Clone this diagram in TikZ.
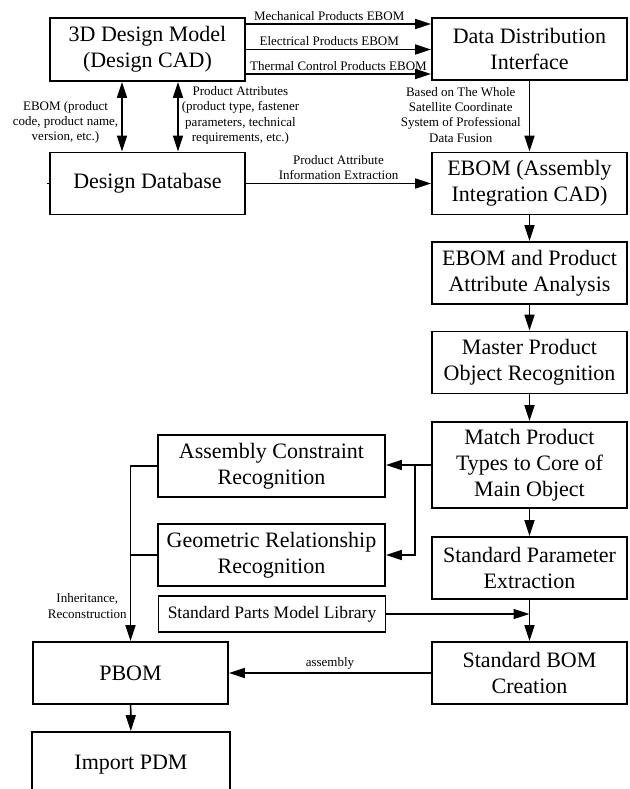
\documentclass[tikz,border=0pt]{standalone}
\usepackage{fontspec}
\setmainfont{Liberation Serif}
\usetikzlibrary{arrows.meta,calc}
\definecolor{FlowInk}{HTML}{000000}
\tikzset{
  every node/.style={text=FlowInk},
  block/.style={draw=FlowInk, line width=0.9pt, align=center, inner sep=0pt, minimum width=97.5pt, minimum height=31pt, font=\fontsize{11}{13}\selectfont},
  wideblock/.style={block, minimum width=113.5pt},
  note/.style={align=center, inner sep=1.5pt, font=\fontsize{6.5}{7.7}\selectfont},
  flow/.style={-{Triangle[length=8pt,width=5pt]}, draw=FlowInk, line width=0.8pt},
  twoway/.style={{Triangle[length=8pt,width=5pt]}-{Triangle[length=8pt,width=5pt]}, draw=FlowInk, line width=0.8pt},
  link/.style={draw=FlowInk, line width=0.8pt},
}

\begin{document}
\begin{tikzpicture}[x=0.5pt,y=-0.5pt]
  \clip (0,0) rectangle (630,789);
  % Design side
  \node[block, minimum height=31.5pt] (designcad) at (147.5,49.5) {3D Design Model\\(Design CAD)};
  \node[block] (designdb) at (147.5,183.5) {Design Database};
  % Main column
  \node[block] (distrib) at (529.5,49) {Data Distribution\\Interface};
  \node[block] (ebomcad) at (529.5,183.5) {EBOM (Assembly\\Integration CAD)};
  \node[block] (analysis) at (529.5,273) {EBOM and Product\\Attribute Analysis};
  \node[block] (master) at (529.5,362.5) {Master Product\\Object Recognition};
  \node[block, minimum height=43pt] (match) at (529.5,465) {Match Product\\Types to Core of\\Main Object};
  \node[block] (param) at (529.5,568) {Standard Parameter\\Extraction};
  \node[block] (stdbom) at (529.5,673) {Standard BOM\\Creation};
  % Recognition branch
  \node[wideblock] (constraint) at (271.5,466) {Assembly Constraint\\Recognition};
  \node[wideblock] (geometric) at (271.5,555) {Geometric Relationship\\Recognition};
  \node[wideblock, minimum height=18pt, font=\fontsize{8.75}{10}\selectfont] (library) at (272,614) {Standard Parts Model Library};
  % Output side
  \node[block] (pbom) at (130.5,673) {PBOM};
  \node[block, minimum width=99pt, minimum height=33pt] (pdm) at (131,765) {Import PDM};

  % EBOM streams into the distribution interface
  \draw[flow] ([yshift=12.75pt]designcad.east) -- ([yshift=12.75pt]designcad.east -| distrib.west)
    node[note, pos=0.45, above] {Mechanical Products EBOM};
  \draw[flow] (designcad.east) -- (designcad.east -| distrib.west)
    node[note, pos=0.45, above] {Electrical Products EBOM};
  \draw[flow] ([yshift=-12.25pt]designcad.east) -- ([yshift=-12.25pt]designcad.east -| distrib.west)
    node[note, midway, above] {Thermal Control Products EBOM};
  % Model <-> database
  \draw[twoway] ([xshift=-12.75pt]designcad.south) -- ([xshift=-12.75pt]designcad.south |- designdb.north)
    node[note, pos=0.58, left] {EBOM (product\\code, product name,\\version, etc.)};
  \draw[twoway] ([xshift=15.25pt]designcad.south) -- ([xshift=15.25pt]designcad.south |- designdb.north)
    node[note, pos=0.48, right] {Product Attributes\\(product type, fastener\\parameters, technical\\requirements, etc.)};
  \draw[link] (designdb.west) -- ++(-1pt,0);
  % Into the integration CAD
  \draw[flow] (distrib.south) -- (ebomcad.north)
    node[note, pos=0.48, left=2.5pt] {Based on The Whole\\Satellite Coordinate\\System of Professional\\Data Fusion};
  \draw[flow] (designdb.east) -- (ebomcad.west)
    node[note, midway, above] {Product Attribute\\Information Extraction};
  % Main column
  \draw[flow] (ebomcad) -- (analysis);
  \draw[flow] (analysis) -- (master);
  \draw[flow] (master) -- (match);
  \draw[flow] (match) -- (param);
  \draw[flow] (param) -- (stdbom);
  \draw[flow] (library.east) -- (library.east -| param.south);
  % Recognition branch
  \draw[flow] (match.west) -- (match.west -| constraint.east);
  \coordinate (split) at ([xshift=-8pt]match.west);
  \draw[flow] (split) |- (geometric.east);
  % Into PBOM
  \draw[flow] (constraint.west) -| (pbom.north)
    node[note, pos=0.9, left] {Inheritance,\\Reconstruction};
  \draw[link] (geometric.west) -- (geometric.west -| pbom.north);
  \draw[flow] (stdbom.west) -- (pbom.east) node[note, midway, above] {assembly};
  \draw[flow] (pbom) -- (pdm);
\end{tikzpicture}
\end{document}
